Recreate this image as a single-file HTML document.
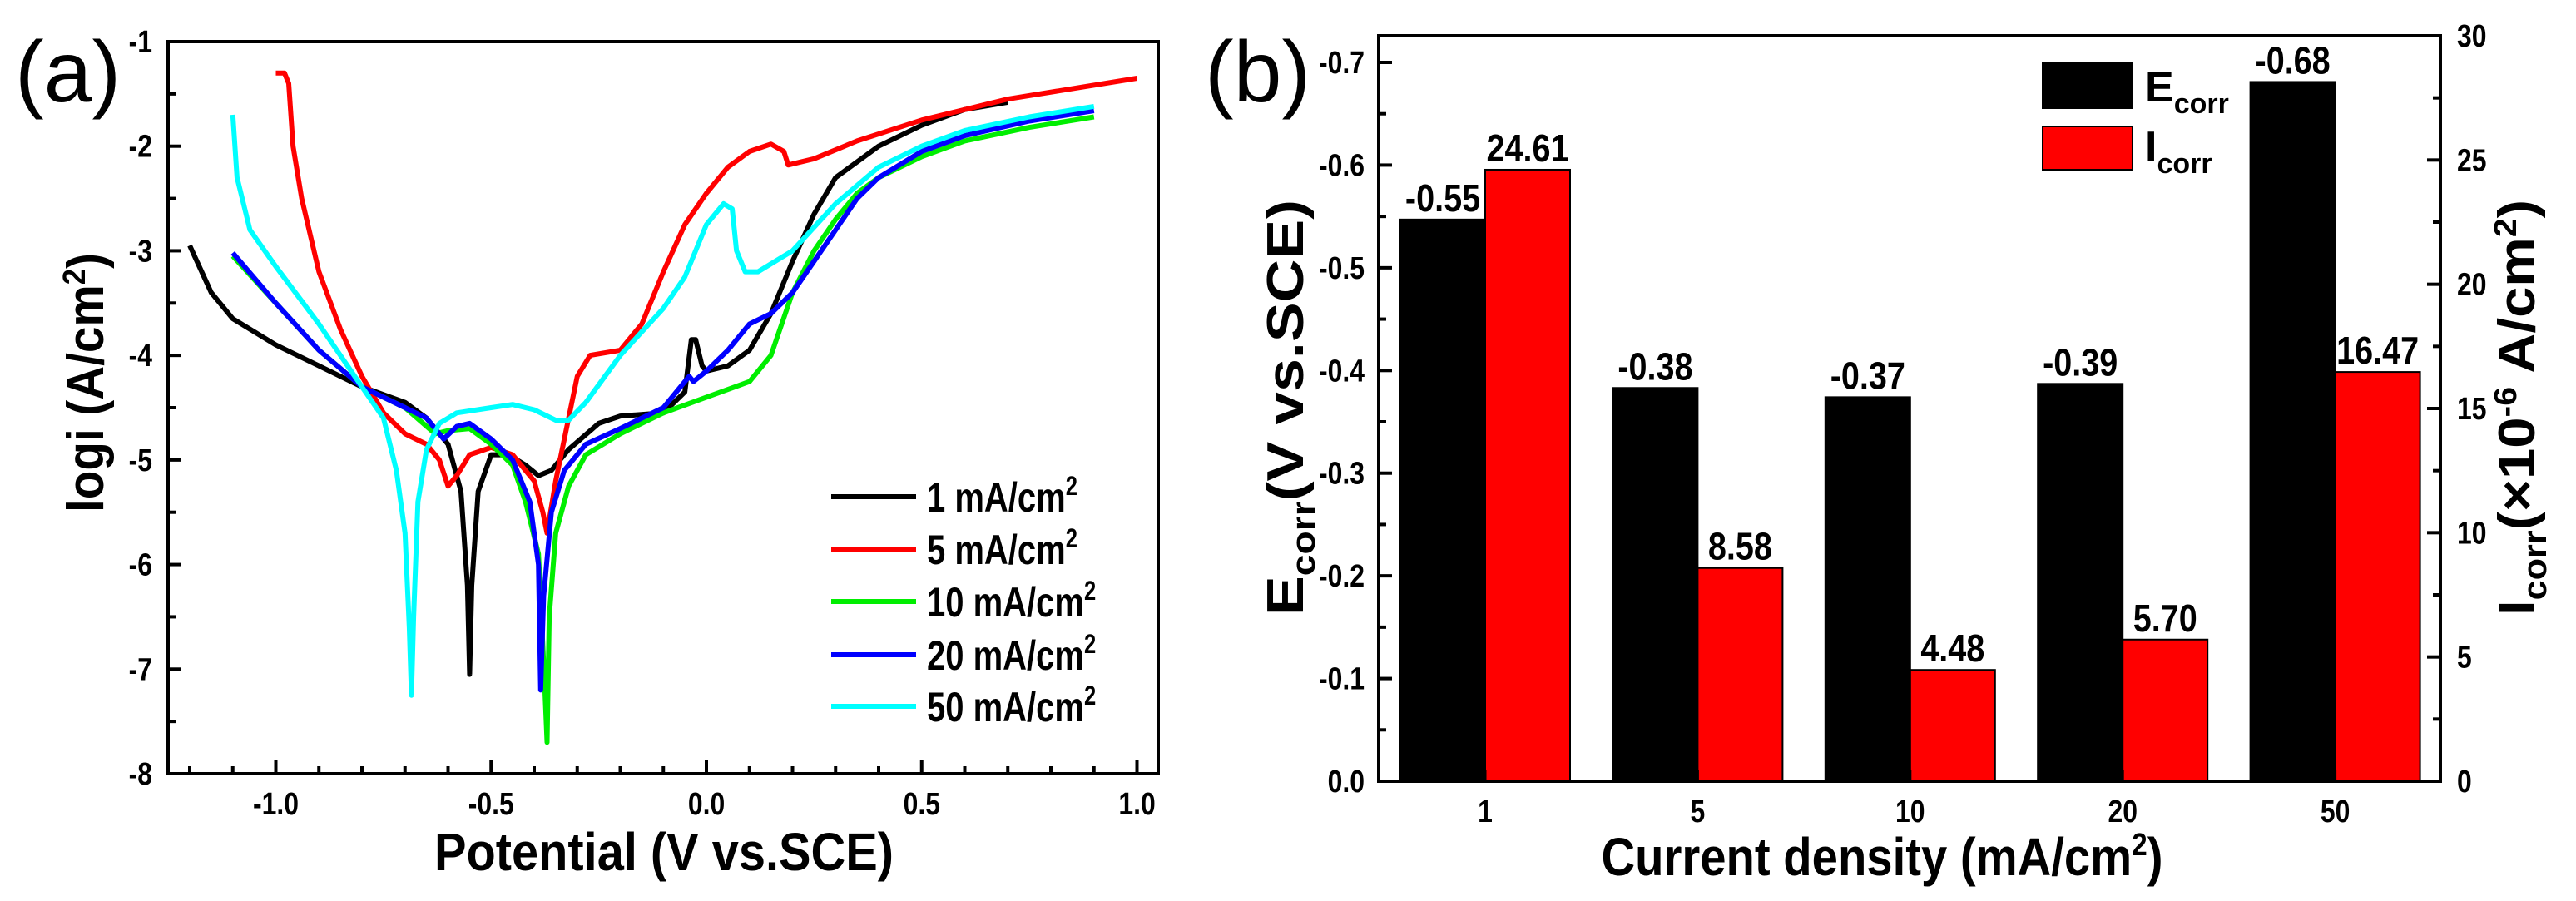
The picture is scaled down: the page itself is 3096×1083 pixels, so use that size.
<!DOCTYPE html>
<html><head><meta charset="utf-8"><style>
html,body{margin:0;padding:0;background:#fff;}
svg{display:block;font-family:"Liberation Sans",sans-serif;font-weight:bold;}
</style></head><body>
<svg id="c" width="3096" height="1083" viewBox="0 0 3096 1083" xmlns="http://www.w3.org/2000/svg"></svg>
<script>
// ---- panel (a) data ----
const potA1 = [-1.2,-1.15,-1.1,-1.0,-0.9,-0.8,-0.7,-0.65,-0.6,-0.57,-0.555,-0.55,-0.545,-0.53,-0.5,-0.46,-0.42,-0.39,-0.36,-0.32,-0.25,-0.2,-0.1,-0.05,-0.035,-0.025,-0.01,0.0,0.05,0.1,0.15,0.2,0.25,0.3,0.4,0.5,0.6,0.7];
const logiA1 = [-2.95,-3.4,-3.65,-3.9,-4.1,-4.3,-4.45,-4.6,-4.85,-5.3,-6.2,-7.05,-6.2,-5.3,-4.95,-4.95,-5.05,-5.15,-5.1,-4.9,-4.65,-4.58,-4.55,-4.35,-3.85,-3.85,-4.1,-4.15,-4.1,-3.95,-3.6,-3.1,-2.65,-2.3,-2.0,-1.8,-1.65,-1.58];
const potA5 = [-1.0,-0.98,-0.97,-0.96,-0.94,-0.9,-0.85,-0.8,-0.75,-0.7,-0.65,-0.62,-0.6,-0.58,-0.55,-0.5,-0.45,-0.4,-0.38,-0.37,-0.35,-0.32,-0.3,-0.27,-0.2,-0.15,-0.1,-0.05,0.0,0.05,0.1,0.15,0.18,0.19,0.25,0.35,0.5,0.7,1.0];
const logiA5 = [-1.3,-1.3,-1.4,-2.0,-2.5,-3.2,-3.75,-4.2,-4.55,-4.75,-4.85,-5.0,-5.25,-5.15,-4.95,-4.88,-4.95,-5.2,-5.5,-5.7,-5.2,-4.6,-4.2,-4.0,-3.95,-3.7,-3.2,-2.75,-2.45,-2.2,-2.05,-1.98,-2.05,-2.18,-2.12,-1.95,-1.75,-1.55,-1.35];
const potA10 = [-1.1,-1.0,-0.9,-0.8,-0.7,-0.63,-0.6,-0.55,-0.5,-0.45,-0.42,-0.39,-0.375,-0.37,-0.365,-0.35,-0.32,-0.28,-0.2,-0.1,0.0,0.1,0.15,0.2,0.25,0.3,0.35,0.4,0.5,0.6,0.75,0.9];
const logiA10 = [-3.05,-3.5,-3.95,-4.3,-4.5,-4.75,-4.72,-4.7,-4.85,-5.05,-5.4,-5.9,-7.2,-7.7,-6.5,-5.7,-5.25,-4.95,-4.75,-4.55,-4.4,-4.25,-4.0,-3.4,-3.0,-2.7,-2.45,-2.3,-2.1,-1.95,-1.82,-1.72];
const potA20 = [-1.1,-1.0,-0.9,-0.8,-0.7,-0.65,-0.61,-0.58,-0.55,-0.5,-0.45,-0.41,-0.39,-0.385,-0.378,-0.36,-0.33,-0.28,-0.2,-0.1,-0.04,-0.03,0.0,0.05,0.1,0.15,0.2,0.25,0.3,0.35,0.4,0.5,0.6,0.75,0.9];
const logiA20 = [-3.02,-3.5,-3.95,-4.3,-4.5,-4.6,-4.8,-4.68,-4.65,-4.8,-5.0,-5.4,-6.0,-7.2,-6.3,-5.5,-5.1,-4.85,-4.7,-4.5,-4.2,-4.25,-4.15,-3.95,-3.7,-3.6,-3.4,-3.1,-2.8,-2.5,-2.3,-2.05,-1.9,-1.76,-1.66];
const potA50 = [-1.1,-1.09,-1.06,-1.0,-0.9,-0.8,-0.75,-0.72,-0.7,-0.69,-0.685,-0.68,-0.67,-0.65,-0.62,-0.58,-0.5,-0.45,-0.4,-0.35,-0.32,-0.28,-0.2,-0.1,-0.05,0.0,0.04,0.06,0.07,0.09,0.12,0.2,0.3,0.4,0.5,0.6,0.75,0.9];
const logiA50 = [-1.7,-2.3,-2.8,-3.15,-3.7,-4.3,-4.6,-5.1,-5.7,-6.6,-7.25,-6.5,-5.4,-4.9,-4.65,-4.55,-4.5,-4.47,-4.52,-4.62,-4.62,-4.45,-4.0,-3.55,-3.25,-2.75,-2.55,-2.6,-3.0,-3.2,-3.2,-3.0,-2.55,-2.2,-2.0,-1.85,-1.72,-1.62];
const seriesLabels = ["1","5","10","20","50"];
const xTicksA = [-1.0,-0.5,0.0,0.5,1.0];
const xTickLabelsA = ["-1.0","-0.5","0.0","0.5","1.0"];
const yTicksA = [-1,-2,-3,-4,-5,-6,-7,-8];
// ---- panel (b) data ----
const categories = ["1","5","10","20","50"];
const ecorr = [-0.55,-0.38,-0.37,-0.39,-0.68];
const ecorrExact = [-0.547,-0.383,-0.374,-0.387,-0.681];
const icorr = [24.61,8.58,4.48,5.70,16.47];
const yTicksBL = ["0.0","-0.1","-0.2","-0.3","-0.4","-0.5","-0.6","-0.7"];
const yTicksBR = ["0","5","10","15","20","25","30"];

const svg=document.getElementById('c');
const NS="http://www.w3.org/2000/svg";
function el(tag,attrs,parent){const e=document.createElementNS(NS,tag);for(const k in attrs)e.setAttribute(k,attrs[k]);(parent||svg).appendChild(e);return e;}
function txt(s,x,y,size,anchor,name,sx){const g=el('g',{transform:`translate(${x},${y}) scale(${sx||0.84},1)`});const t=el('text',{x:0,y:0,'font-size':size,'text-anchor':anchor||'middle'},g);t.textContent=s;


return t;}

// ===== panel A =====
const AL=202,AR=1392,AT=50,AB=930;
const ax=v=>849+v*517.5;
const ay=v=>AT+(-1-v)*(AB-AT)/7;
const colors=["#000000","#ff0000","#00ee00","#0000ff","#00ffff"];
const xs=[potA1,potA5,potA10,potA20,potA50], ys=[logiA1,logiA5,logiA10,logiA20,logiA50];
for(let s=0;s<5;s++){
  const d=xs[s].map((v,i)=>(i?'L':'M')+ax(v).toFixed(1)+','+ay(ys[s][i]).toFixed(1)).join(' ');
  const p=el('path',{d:d,fill:'none',stroke:colors[s],'stroke-width':6,'stroke-linejoin':'round'});
  
  
}
const fa=el('rect',{x:AL,y:AT,width:AR-AL,height:AB-AT,fill:'none',stroke:'#000','stroke-width':4});


for(let v=-1.2;v<=1.001;v+=0.1){const major=Math.abs(Math.round(v*10)%5)===0;el('line',{x1:ax(v),x2:ax(v),y1:AB,y2:AB-(major?16:9),stroke:'#000','stroke-width':4});}
xTicksA.forEach((v,i)=>txt(xTickLabelsA[i],ax(v),979,38,'middle','x-tick-label'));
for(let v=-1;v>=-8;v-=0.5){const major=Number.isInteger(v);el('line',{x1:AL,x2:AL+(major?16:9),y1:ay(v),y2:ay(v),stroke:'#000','stroke-width':4});}
yTicksA.forEach(v=>txt(String(v),183,ay(v)+13,38,'end','y-tick-label'));
let t=el('text',{x:798,y:1046,'font-size':64,'text-anchor':'middle',textLength:552,lengthAdjust:'spacingAndGlyphs'});t.textContent='Potential (V vs.SCE)';


t=el('text',{transform:'translate(124,460) rotate(-90)','font-size':62,'text-anchor':'middle',textLength:312,lengthAdjust:'spacingAndGlyphs'});
t.innerHTML='logi (A/cm<tspan dy="-22" font-size="38">2</tspan><tspan dy="22">)</tspan>';


t=el('text',{x:18,y:122,'font-size':104,'font-weight':'normal'});t.textContent='(a)';


const legY=[597,660,723,787,849];
for(let s=0;s<5;s++){
  const g=el('g',{});
  
  
  el('line',{x1:999,x2:1101,y1:legY[s],y2:legY[s],stroke:colors[s],'stroke-width':6},g);
  const gg=el('g',{transform:`translate(1114,${legY[s]+18}) scale(0.8,1)`},g);
  const tt=el('text',{x:0,y:0,'font-size':50},gg);
  tt.innerHTML=seriesLabels[s]+' mA/cm<tspan dy="-20" font-size="32">2</tspan>';
}

// ===== panel B =====
const BL=1657,BR=2933,BT=43,BB=939;
const ey=v=>BB-(-v)/0.7*864;
const iy=v=>BB-v/30*(BB-BT);
const bx=i=>1785+i*255.4;
const bw=102;
categories.forEach((c,i)=>{
  let r=el('rect',{x:bx(i)-bw,y:ey(ecorrExact[i]),width:bw,height:BB-ey(ecorrExact[i]),fill:'#000',stroke:'#000','stroke-width':2});
  
  
  r=el('rect',{x:bx(i),y:iy(icorr[i]),width:bw,height:BB-iy(icorr[i]),fill:'#ff0000',stroke:'#000','stroke-width':2});
  
  
  txt(ecorr[i].toFixed(2),bx(i)-bw/2,ey(ecorrExact[i])-10,46,'middle','value-label-ecorr',0.86);
  txt(icorr[i].toFixed(2),bx(i)+bw/2,iy(icorr[i])-10,46,'middle','value-label-icorr',0.86);
  txt(c,bx(i),988,38,'middle','x-tick-label');
  el('line',{x1:bx(i),x2:bx(i),y1:BB,y2:BB-14,stroke:'#000','stroke-width':3});
});
const fb=el('rect',{x:BL,y:BT,width:BR-BL,height:BB-BT,fill:'none',stroke:'#000','stroke-width':4});


yTicksBL.forEach((s,i)=>{const y=ey(-i*0.1);el('line',{x1:BL,x2:BL+16,y1:y,y2:y,stroke:'#000','stroke-width':4});txt(s,1640,y+13,38,'end','left-tick-label');
  const ym=ey(-i*0.1-0.05);if(ym>BT+5)el('line',{x1:BL,x2:BL+9,y1:ym,y2:ym,stroke:'#000','stroke-width':4});});
yTicksBR.forEach((s,i)=>{const y=iy(i*5);el('line',{x1:BR,x2:BR-16,y1:y,y2:y,stroke:'#000','stroke-width':4});txt(s,2953,y+13,38,'start','right-tick-label');
  const ym=iy(i*5+2.5);if(ym>BT+5)el('line',{x1:BR,x2:BR-9,y1:ym,y2:ym,stroke:'#000','stroke-width':4});});
t=el('text',{x:2262,y:1052,'font-size':64,'text-anchor':'middle',textLength:675,lengthAdjust:'spacingAndGlyphs'});
t.innerHTML='Current density (mA/cm<tspan dy="-24" font-size="38">2</tspan><tspan dy="24">)</tspan>';


t=el('text',{transform:'translate(1566,490) rotate(-90)','font-size':62,'text-anchor':'middle',textLength:500,lengthAdjust:'spacingAndGlyphs'});
t.innerHTML='E<tspan dy="14" font-size="40">corr</tspan><tspan dy="-14">(V vs.SCE)</tspan>';


t=el('text',{transform:'translate(3046,490) rotate(-90)','font-size':62,'text-anchor':'middle',textLength:500,lengthAdjust:'spacingAndGlyphs'});
t.innerHTML='I<tspan dy="14" font-size="40">corr</tspan><tspan dy="-14">(×10</tspan><tspan dy="-22" font-size="38">-6</tspan><tspan dy="22"> A/cm</tspan><tspan dy="-22" font-size="38">2</tspan><tspan dy="22">)</tspan>';


t=el('text',{x:1448,y:122,'font-size':104,'font-weight':'normal'});t.textContent='(b)';


let lg=el('g',{});


el('rect',{x:2455,y:76,width:108,height:54,fill:'#000',stroke:'#000','stroke-width':2},lg);
t=el('text',{x:2578,y:122,'font-size':52},lg);t.innerHTML='E<tspan dy="14" font-size="34">corr</tspan>';
lg=el('g',{});


el('rect',{x:2455,y:152,width:108,height:52,fill:'#ff0000',stroke:'#000','stroke-width':2},lg);
t=el('text',{x:2578,y:194,'font-size':52},lg);t.innerHTML='I<tspan dy="14" font-size="34">corr</tspan>';
</script>
</body></html>
